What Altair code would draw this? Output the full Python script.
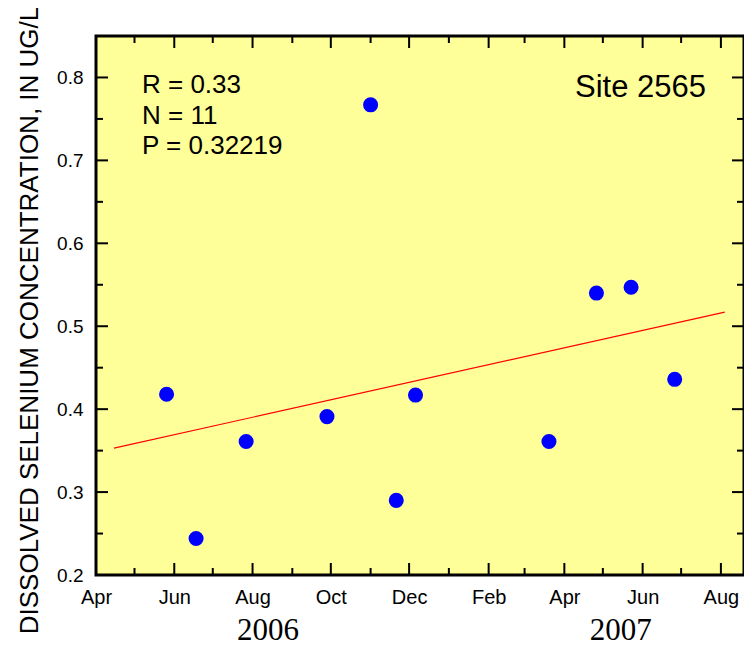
import altair as alt
import pandas as pd

# ---- data ----
sample_dates = ["2006-05-26", "2006-06-18", "2006-07-27", "2006-09-28", "2006-11-01",
                "2006-11-21", "2006-12-06", "2007-03-20", "2007-04-26", "2007-05-23",
                "2007-06-26"]
selenium = [0.418, 0.244, 0.361, 0.391, 0.767, 0.290, 0.417, 0.361, 0.540, 0.547, 0.436]

fit_dates = ["2006-04-15", "2007-08-04"]
fit_values = [0.353, 0.517]

major_months = ["2006-04-01", "2006-06-01", "2006-08-01", "2006-10-01", "2006-12-01",
                "2007-02-01", "2007-04-01", "2007-06-01", "2007-08-01"]
minor_months = ["2006-05-01", "2006-07-01", "2006-09-01", "2006-11-01", "2007-01-01",
                "2007-03-01", "2007-05-01", "2007-07-01"]
major_y = [0.2, 0.3, 0.4, 0.5, 0.6, 0.7, 0.8]
minor_y = [0.25, 0.35, 0.45, 0.55, 0.65, 0.75]

year_labels = ["2006", "2007"]
year_label_dates = ["2006-08-13", "2007-05-15"]

stats_text = ["R = 0.33", "N = 11", "P = 0.32219"]
site_text = "Site 2565"
y_title = "DISSOLVED SELENIUM CONCENTRATION, IN UG/L"

# ---- geometry ----
W, H = 648, 539
MAJ, MIN = 12, 7

def dt(s):
    y, m, d = (int(v) for v in s.split("-"))
    return alt.DateTime(year=y, month=m, date=d, utc=True)

xscale = alt.Scale(type="utc", domain=[dt("2006-04-01"), dt("2007-08-19")], nice=False)
yscale = alt.Scale(domain=[0.2, 0.85], nice=False, zero=False)

xaxis = alt.Axis(values=[dt(s) for s in major_months], format="%b", title=None,
                 domain=False, ticks=False, grid=False, labelFlush=False,
                 labelOverlap=False, labelFont="Liberation Sans", labelFontSize=20,
                 labelColor="black", labelBaseline="alphabetic", labelPadding=28)
yaxis = alt.Axis(values=major_y, format=".1f", title=y_title, domain=False,
                 ticks=False, grid=False, labelFont="Liberation Sans", labelFontSize=19,
                 labelColor="black", labelPadding=13, labelFlush=False,
                 titleFont="Liberation Sans", titleFontSize=26, titleFontWeight="normal",
                 titleColor="black", titleAngle=270, titleX=-59, titleY=284,
                 titleAlign="center", titleBaseline="alphabetic")

def X(field="date"):
    return alt.X(f"{field}:T", scale=xscale, axis=xaxis)

def Y(field="value"):
    return alt.Y(f"{field}:Q", scale=yscale, axis=yaxis)

pts_df = pd.DataFrame({"date": sample_dates, "value": selenium})
fit_df = pd.DataFrame({"date": fit_dates, "value": fit_values})
xmaj_df = pd.DataFrame({"date": major_months})
xmin_df = pd.DataFrame({"date": minor_months})
ymaj_df = pd.DataFrame({"value": major_y})
ymin_df = pd.DataFrame({"value": minor_y})
year_df = pd.DataFrame({"date": year_label_dates, "label": year_labels})

points = alt.Chart(pts_df).mark_circle(size=227, color="#0000FF", opacity=1).encode(
    x=X(), y=Y())

fit = alt.Chart(fit_df).mark_line(color="#FF0000", strokeWidth=1.2).encode(x=X(), y=Y())

def xticks(df, length):
    bot = alt.Chart(df).mark_rule(color="black", strokeWidth=2).encode(
        x=X(), y=alt.value(H - length), y2=alt.value(H))
    top = alt.Chart(df).mark_rule(color="black", strokeWidth=2).encode(
        x=X(), y=alt.value(0), y2=alt.value(length))
    return [bot, top]

def yticks(df, length):
    left = alt.Chart(df).mark_rule(color="black", strokeWidth=2).encode(
        y=Y(), x=alt.value(0), x2=alt.value(length))
    right = alt.Chart(df).mark_rule(color="black", strokeWidth=2).encode(
        y=Y(), x=alt.value(W - length), x2=alt.value(W))
    return [left, right]

years = alt.Chart(year_df).mark_text(font="Liberation Serif", fontSize=31, color="black",
                                     align="center", baseline="alphabetic").encode(
    x=X(), y=alt.value(604), text="label:N")

stats = alt.Chart(pd.DataFrame({"t": [0]})).mark_text(
    font="Liberation Sans", fontSize=26, color="black", align="left",
    baseline="alphabetic", lineHeight=30.5).encode(
    x=alt.value(46), y=alt.value(57), text=alt.value(stats_text))

site = alt.Chart(pd.DataFrame({"t": [0]})).mark_text(
    font="Liberation Sans", fontSize=31, color="black", align="right",
    baseline="alphabetic").encode(
    x=alt.value(610), y=alt.value(61), text=alt.value(site_text))

layers = (xticks(xmaj_df, MAJ) + xticks(xmin_df, MIN) + yticks(ymaj_df, MAJ)
          + yticks(ymin_df, MIN) + [fit, points, years, stats, site])

chart = alt.layer(*layers).properties(
    width=W, height=H, autosize="none",
    padding={"left": 88, "top": 28, "right": 0, "bottom": 73},
    background="white",
).configure_view(fill="#FFFF99", stroke="black", strokeWidth=3)

chart.save("out.html", embed_options={"renderer": "svg", "actions": False})
